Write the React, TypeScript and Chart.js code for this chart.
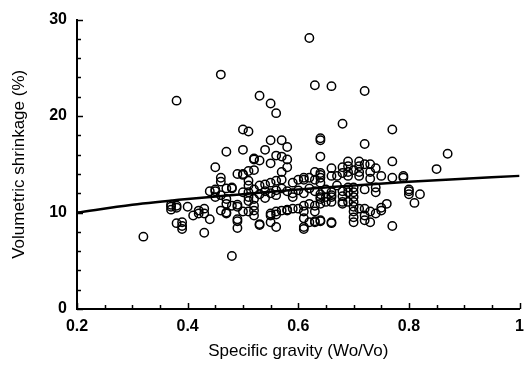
import React, { useEffect, useRef } from "react";
import { Chart, registerables } from "chart.js";

Chart.register(...registerables);

// Measured samples: specific gravity (Wo/Vo) and volumetric shrinkage (%)
const gravity = [
  0.32,
  0.37, 0.37, 0.37,
  0.38, 0.38, 0.38, 0.38,
  0.39, 0.39, 0.39,
  0.40,
  0.41,
  0.42, 0.42,
  0.43, 0.43, 0.43,
  0.44, 0.44,
  0.45, 0.45, 0.45, 0.45,
  0.46, 0.46, 0.46, 0.46, 0.46,
  0.47, 0.47, 0.47, 0.47, 0.47, 0.47,
  0.48, 0.48, 0.48, 0.48,
  0.49, 0.49, 0.49, 0.49, 0.49, 0.49,
  0.50, 0.50, 0.50, 0.50, 0.50, 0.50,
  0.51, 0.51, 0.51, 0.51, 0.51, 0.51, 0.51, 0.51,
  0.52, 0.52, 0.52, 0.52, 0.52, 0.52, 0.52, 0.52,
  0.53, 0.53, 0.53, 0.53, 0.53, 0.53,
  0.54, 0.54, 0.54, 0.54,
  0.55, 0.55, 0.55, 0.55, 0.55, 0.55, 0.55, 0.55,
  0.56, 0.56, 0.56, 0.56, 0.56, 0.56, 0.56, 0.56,
  0.57, 0.57, 0.57, 0.57, 0.57, 0.57,
  0.58, 0.58, 0.58, 0.58, 0.58, 0.58,
  0.59, 0.59, 0.59, 0.59,
  0.60, 0.60, 0.60,
  0.61, 0.61, 0.61, 0.61, 0.61, 0.61, 0.61, 0.61,
  0.62, 0.62, 0.62, 0.62, 0.62,
  0.63, 0.63, 0.63, 0.63, 0.63, 0.63, 0.63, 0.63,
  0.64, 0.64, 0.64, 0.64, 0.64, 0.64, 0.64, 0.64, 0.64, 0.64, 0.64, 0.64, 0.64,
  0.65, 0.65, 0.65,
  0.66, 0.66, 0.66, 0.66, 0.66, 0.66, 0.66, 0.66, 0.66,
  0.67, 0.67,
  0.68, 0.68, 0.68, 0.68, 0.68, 0.68, 0.68,
  0.69, 0.69, 0.69, 0.69, 0.69, 0.69, 0.69,
  0.70, 0.70, 0.70, 0.70, 0.70, 0.70, 0.70, 0.70, 0.70,
  0.71, 0.71, 0.71, 0.71, 0.71,
  0.72, 0.72, 0.72, 0.72, 0.72, 0.72, 0.72,
  0.73, 0.73, 0.73, 0.73, 0.73,
  0.74, 0.74, 0.74, 0.74,
  0.75, 0.75, 0.75,
  0.76,
  0.77, 0.77, 0.77, 0.77,
  0.79, 0.79,
  0.80, 0.80, 0.80,
  0.81,
  0.82,
  0.85,
  0.87,
];

const shrinkage = [
  7.5,
  10.6, 10.3, 10.8,
  21.6, 10.5, 10.7, 8.9,
  9.0, 8.3, 8.6,
  10.6,
  9.7,
  10.2, 9.9,
  9.9, 7.9, 10.4,
  9.3, 12.2,
  12.2, 11.6, 14.7, 12.4,
  24.3, 13.6, 13.2, 11.8, 10.2,
  16.3, 12.5, 11.4, 9.9, 10.0, 10.9,
  12.5, 10.7, 5.5, 12.6,
  14.0, 10.6, 9.1, 8.4, 10.8, 9.3,
  18.6, 16.5, 14.0, 13.9, 12.1, 10.1,
  18.4, 14.3, 13.3, 12.8, 12.1, 11.6, 11.2, 10.1,
  15.5, 15.6, 14.4, 11.4, 10.7, 10.2, 9.7, 12.4,
  22.1, 15.4, 12.8, 8.8, 8.7, 11.9,
  16.5, 12.9, 12.2, 11.5,
  21.3, 17.5, 15.1, 13.1, 9.9, 9.0, 9.7, 12.0,
  20.3, 15.9, 13.3, 10.1, 8.5, 9.8, 12.3, 11.8,
  17.5, 15.8, 14.2, 13.4, 10.2, 12.5,
  16.8, 15.5, 14.7, 10.2, 10.3, 12.2,
  13.1, 10.4, 12.0, 11.6,
  13.4, 10.4, 12.3,
  13.4, 10.1, 9.4, 8.3, 8.5, 10.7, 13.6, 12.0,
  28.1, 13.6, 9.0, 10.9, 12.5,
  23.2, 13.4, 9.0, 9.1, 10.1, 10.7, 14.2, 12.2,
  17.7, 17.5, 15.8, 14.1, 13.6, 13.1, 13.9, 11.9, 11.4, 10.9, 9.2, 9.1, 11.6,
  11.6, 11.1, 12.4,
  23.1, 14.6, 13.8, 12.1, 11.6, 11.1, 9.0, 8.9, 11.8,
  13.8, 12.8,
  19.2, 14.7, 14.1, 12.2, 11.7, 11.1, 10.9,
  15.3, 14.8, 14.2, 13.8, 12.6, 12.1, 11.1,
  12.6, 12.1, 11.6, 11.1, 10.6, 10.1, 9.5, 9.0, 14.4,
  15.3, 14.8, 14.2, 13.8, 10.4,
  22.6, 17.1, 15.0, 10.4, 9.7, 9.2, 12.4,
  15.0, 14.2, 10.1, 9.0, 13.5,
  14.6, 12.6, 12.1, 9.9,
  13.8, 10.2, 10.5,
  10.9,
  18.6, 15.3, 13.6, 8.6,
  13.8, 13.6,
  12.4, 12.2, 11.9,
  11.0,
  11.9,
  14.5,
  16.1,
];

// Fitted curve
const fitGravity = [0.2, 0.3, 0.4, 0.5, 0.6, 0.7, 0.8, 0.9, 1.0];
const fitShrinkage = [10.0, 10.8, 11.4, 11.9, 12.4, 12.8, 13.2, 13.5, 13.8];

// Axis ticks
const xTicks = [0.2, 0.4, 0.6, 0.8, 1];
const yTicks = [0, 10, 20, 30];
const xMinorStep = 0.05;
const yMinorStep = 2;

const inwardTicks = {
  id: "inwardTicks",
  afterDatasetsDraw(chart: any) {
    const { ctx, chartArea, scales } = chart;
    const x = scales.x;
    const y = scales.y;
    ctx.save();
    ctx.strokeStyle = "#000";
    ctx.lineWidth = 1.5;
    const nx = Math.round((x.max - x.min) / xMinorStep);
    for (let i = 0; i <= nx; i++) {
      const v = x.min + i * xMinorStep;
      const major = xTicks.some((t) => Math.abs(t - v) < 1e-6);
      const px = Math.round(x.getPixelForValue(v)) + 0.5;
      const len = major ? 6 : 4;
      ctx.beginPath();
      ctx.moveTo(px, chartArea.bottom);
      ctx.lineTo(px, chartArea.bottom - len);
      ctx.stroke();
    }
    const ny = Math.round((y.max - y.min) / yMinorStep);
    for (let i = 0; i <= ny; i++) {
      const v = y.min + i * yMinorStep;
      const major = yTicks.some((t) => Math.abs(t - v) < 1e-6);
      const py = Math.round(y.getPixelForValue(v)) + 0.5;
      const len = major ? 6 : 4;
      ctx.beginPath();
      ctx.moveTo(chartArea.left, py);
      ctx.lineTo(chartArea.left + len, py);
      ctx.stroke();
    }
    ctx.restore();
  },
};

export default function App() {
  const ref = useRef<HTMLCanvasElement | null>(null);

  useEffect(() => {
    if (!ref.current) return;
    const points = gravity.map((g, i) => ({ x: g, y: shrinkage[i] }));
    const fit = fitGravity.map((g, i) => ({ x: g, y: fitShrinkage[i] }));
    const tickFont = { family: "'Liberation Sans', Arial, sans-serif", size: 16, weight: "bold" as const };
    const titleFont = { family: "'Liberation Sans', Arial, sans-serif", size: 17, weight: "normal" as const };

    const chart = new Chart(ref.current, {
      type: "scatter",
      data: {
        datasets: [
          {
            type: "scatter",
            data: points,
            pointStyle: "circle",
            pointRadius: 4.2,
            pointBorderWidth: 1.5,
            borderColor: "#000",
            backgroundColor: "rgba(0,0,0,0)",
            pointBackgroundColor: "rgba(0,0,0,0)",
            pointBorderColor: "#000",
          },
          {
            type: "line",
            data: fit,
            borderColor: "#000",
            borderWidth: 2.5,
            pointRadius: 0,
            fill: false,
            cubicInterpolationMode: "monotone",
          } as any,
        ],
      },
      options: {
        responsive: false,
        animation: false,
        layout: { padding: { top: 14, right: 3, left: 0, bottom: 0 } },
        plugins: {
          legend: { display: false },
          tooltip: { enabled: false },
        },
        scales: {
          x: {
            type: "linear",
            min: 0.2,
            max: 1,
            afterFit: (s: any) => {
              s.height = 56;
            },
            afterBuildTicks: (s: any) => {
              s.ticks = xTicks.map((v) => ({ value: v }));
            },
            ticks: {
              color: "#000",
              font: tickFont,
              padding: 8,
              maxRotation: 0,
              autoSkip: false,
              callback: (v: any) => String(Number(Number(v).toFixed(2))),
            },
            grid: { display: false, drawTicks: false },
            border: { display: true, color: "#000", width: 2 },
            title: {
              display: true,
              text: "Specific gravity (Wo/Vo)",
              color: "#000",
              font: titleFont,
              padding: { top: 0, bottom: 3 },
            },
          },
          y: {
            type: "linear",
            min: 0,
            max: 30,
            afterFit: (s: any) => {
              s.width = 77;
            },
            afterBuildTicks: (s: any) => {
              s.ticks = yTicks.map((v) => ({ value: v }));
            },
            ticks: {
              color: "#000",
              font: tickFont,
              padding: 10,
              autoSkip: false,
              callback: (v: any) => String(v),
            },
            grid: { display: false, drawTicks: false },
            border: { display: true, color: "#000", width: 2 },
            title: {
              display: true,
              text: "Volumetric shrinkage (%)",
              color: "#000",
              font: titleFont,
              padding: { top: 9, bottom: 0 },
            },
          },
        },
      },
      plugins: [inwardTicks],
    });
    return () => chart.destroy();
  }, []);

  return (
    <div style={{ position: "fixed", left: 0, top: 0, width: 532, height: 365, background: "#fff" }}>
      <canvas ref={ref} width={532} height={365} style={{ display: "block" }} />
    </div>
  );
}
